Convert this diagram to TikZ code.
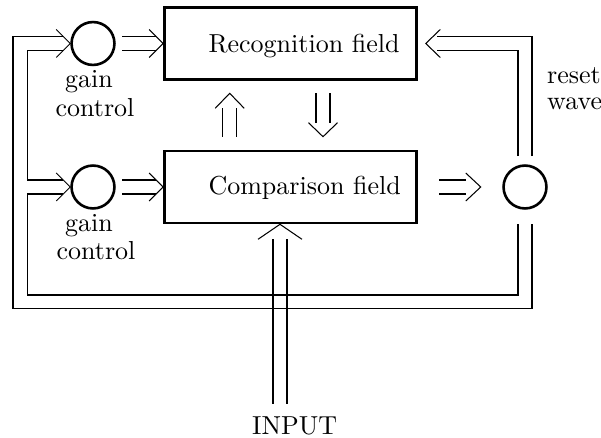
\documentclass[tikz,border=0pt]{standalone}
\usetikzlibrary{calc}
\begin{document}
\begin{tikzpicture}[x=0.384615pt,y=-0.384615pt,
  thinline/.style={line width=0.4pt},
  fieldbox/.style={draw,line width=1pt,minimum width=96.9pt,minimum height=27.7pt,inner sep=0pt},
  unit/.style={draw,circle,line width=1pt,minimum size=16.5pt,inner sep=0pt},
  lbl/.style={inner sep=0pt,anchor=base west},
  lblc/.style={inner sep=0pt,anchor=base}]
\useasboundingbox (0,0) rectangle (601,438);
\clip (0,0) rectangle (601,438);
% nodes
\node[fieldbox] (rec) at (290.5,43.5) {};
\node[fieldbox] (cmp) at (290.5,187) {};
\node[lbl] (rectext) at (208,52.7) {Recognition field};
\node[lbl] (cmptext) at (208,195) {Comparison field};
\node[unit] (gc1) at (93,43.5) {};
\node[unit] (gc2) at (93,187) {};
\node[unit] (rc) at (525,187) {};
\node[lblc] (gain1) at (89,87.7) {gain};
\node[lblc] (ctrl1) at (95,116.7) {control};
\node[lblc] (gain2) at (89,231.7) {gain};
\node[lblc] (ctrl2) at (96,260) {control};
\node[lbl] (reset) at (546.7,83.3) {reset};
\node[lbl] (wave) at (546.7,110) {wave};
\node[lbl] (input) at (251.7,434.5) {INPUT};
% tips
\coordinate (t1) at (gc1.west);
\coordinate (t2) at (rec.west);
\coordinate (t3) at (gc2.west);
\coordinate (t4) at (cmp.west);
\coordinate (t5) at ($(rc.west)+(-21.5,0)$);
\coordinate (t6) at ($(rec.east)+(8,0)$);
\coordinate (upT) at (229.7,93.3);
\coordinate (dnT) at (323,136.7);
\coordinate (inT) at ($(cmp.south)+(-10.5,0)$);
% feedback loops
\draw[thinline] ($(t1)+(-7,-7)$) -- (13,36.5) -- (13,308.5) -| ($(rc.south)+(7,14)$);
\draw[thinline] ($(t1)+(-7,7)$) -- (27.5,50.5) -- (27.5,180) -- ($(t3)+(-7,-7)$);
\draw[thinline] ($(t3)+(-7,7)$) -- (27.5,194) -- (27.5,295) -| ($(rc.south)+(-7,14)$);
\draw[thinline] ($(t1)+(-14,-14)$) -- (t1) -- ($(t1)+(-14,14)$);
\draw[thinline] ($(t3)+(-14,-14)$) -- (t3) -- ($(t3)+(-14,14)$);
% gain control -> fields
\draw[thinline] ($(gc1.east)+(6.5,-7)$) -- ($(t2)+(-7,-7)$);
\draw[thinline] ($(gc1.east)+(6.5,7)$) -- ($(t2)+(-7,7)$);
\draw[thinline] ($(t2)+(-14,-14)$) -- (t2) -- ($(t2)+(-14,14)$);
\draw[thinline] ($(gc2.east)+(6.5,-7)$) -- ($(t4)+(-7,-7)$);
\draw[thinline] ($(gc2.east)+(6.5,7)$) -- ($(t4)+(-7,7)$);
\draw[thinline] ($(t4)+(-14,-14)$) -- (t4) -- ($(t4)+(-14,14)$);
% comparison -> reset unit
\draw[thinline] ($(cmp.east)+(21.5,-7)$) -- ($(t5)+(-15,-7)$);
\draw[thinline] ($(cmp.east)+(21.5,7)$) -- ($(t5)+(-15,7)$);
\draw[thinline] ($(t5)+(-15,-14)$) -- (t5) -- ($(t5)+(-15,14)$);
% reset wave -> recognition
\draw[thinline] ($(rc.north)+(7,-8)$) |- ($(t6)+(11,-7)$);
\draw[thinline] ($(rc.north)+(-7,-8)$) |- ($(t6)+(11,7)$);
\draw[thinline] ($(t6)+(14.5,-14)$) -- (t6) -- ($(t6)+(14.5,14)$);
% comparison -> recognition (up)
\draw[thinline] ($(upT)+(-7,15)$) -- ($(upT)+(-7,43.7)$);
\draw[thinline] ($(upT)+(7,15)$) -- ($(upT)+(7,43.7)$);
\draw[thinline] ($(upT)+(-14.5,15)$) -- (upT) -- ($(upT)+(14.5,15)$);
% recognition -> comparison (down)
\draw[thinline] ($(dnT)+(-7,-14)$) -- ($(dnT)+(-7,-43.4)$);
\draw[thinline] ($(dnT)+(7,-14)$) -- ($(dnT)+(7,-43.4)$);
\draw[thinline] ($(dnT)+(-14.5,-14)$) -- (dnT) -- ($(dnT)+(14.5,-14)$);
% input
\draw[thinline] ($(inT)+(-7,15)$) -- ($(inT)+(-7,180)$);
\draw[thinline] ($(inT)+(7,15)$) -- ($(inT)+(7,180)$);
\draw[thinline] ($(inT)+(-22,15)$) -- (inT) -- ($(inT)+(22,15)$);
\end{tikzpicture}
\end{document}
